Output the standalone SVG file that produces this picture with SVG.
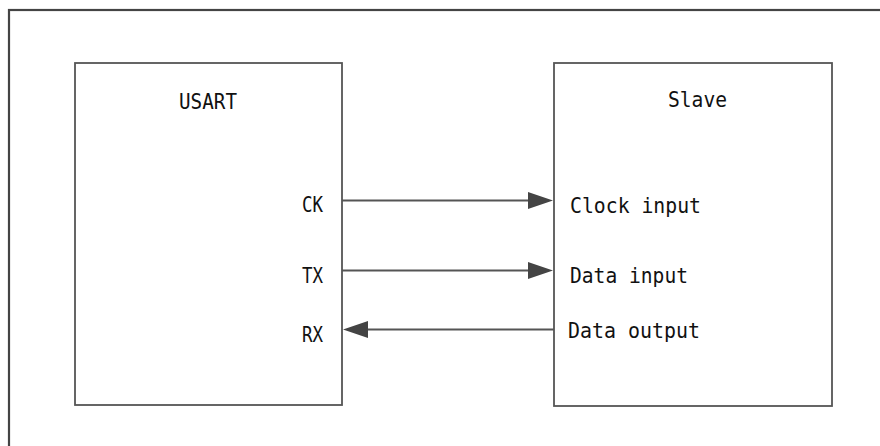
<svg xmlns="http://www.w3.org/2000/svg" width="880" height="446" viewBox="0 0 880 446">
<style>
.frame{fill:none;stroke:#444;stroke-width:2.2}
.box{fill:#fff;stroke:#555;stroke-width:1.8}
.wire{stroke:#555;stroke-width:1.8;fill:none}
.head{fill:#444}
text{font-family:"DejaVu Sans Mono","Liberation Mono",monospace;font-size:21.5px;fill:#111}
</style>
<rect width="880" height="446" fill="#fff"/>
<rect class="frame" x="9" y="10" width="900" height="470"/>
<g id="usart">
<rect class="box" x="75" y="63" width="267" height="342"/>
<text x="179" y="109" textLength="58" lengthAdjust="spacingAndGlyphs">USART</text>
<text x="302" y="212" textLength="21" lengthAdjust="spacingAndGlyphs">CK</text>
<text x="302" y="283" textLength="21" lengthAdjust="spacingAndGlyphs">TX</text>
<text x="302" y="342" textLength="21" lengthAdjust="spacingAndGlyphs">RX</text>
</g>
<g id="slave">
<rect class="box" x="554" y="63" width="278" height="343"/>
<text x="668" y="107" textLength="59" lengthAdjust="spacingAndGlyphs">Slave</text>
<text x="570" y="213" textLength="131" lengthAdjust="spacingAndGlyphs">Clock input</text>
<text x="570" y="283" textLength="118" lengthAdjust="spacingAndGlyphs">Data input</text>
<text x="568" y="338" textLength="132" lengthAdjust="spacingAndGlyphs">Data output</text>
</g>
<g id="connectors">
<line class="wire" x1="342" y1="200.5" x2="530" y2="200.5"/>
<polygon class="head" points="553,200.5 528,192 528,209"/>
<line class="wire" x1="342" y1="270.5" x2="530" y2="270.5"/>
<polygon class="head" points="553,270.5 528,262 528,279"/>
<line class="wire" x1="366" y1="329.5" x2="554" y2="329.5"/>
<polygon class="head" points="343,329.5 368,321 368,338"/>
</g>
</svg>
